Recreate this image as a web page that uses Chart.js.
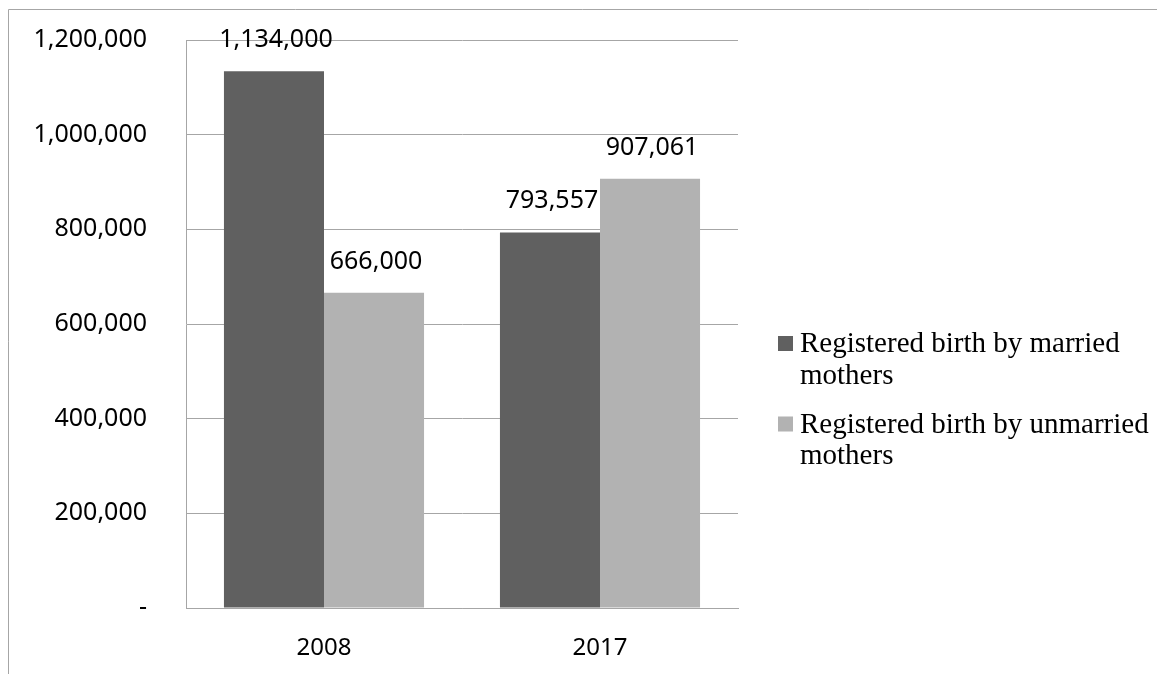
<!DOCTYPE html>
<html>
<head>
<meta charset="utf-8">
<script src="https://cdn.jsdelivr.net/npm/chart.js@4.4.1/dist/chart.umd.min.js"></script>
<style>
  html, body { margin: 0; padding: 0; background: #fff; }
  #wrap { position: relative; width: 1157px; height: 674px; }
</style>
</head>
<body>
<div id="wrap"><canvas id="birthChart"></canvas></div>
<script>
// ------------------------- DATA -------------------------
const years = ['2008', '2017'];
const marriedBirths = [1134000, 793557];
const unmarriedBirths = [666000, 907061];
const seriesNames = ['Registered birth by married mothers', 'Registered birth by unmarried mothers'];
const seriesColors = ['#606060', '#b2b2b2'];
const yTicksMax = 1200000;
const yTicksStep = 200000;

const GRID = '#a6a6a6';
const fmt = v => v.toLocaleString('en-US');

// ------------------------- PLUGINS -------------------------
// outer frame (top + left edge of the picture)
const framePlugin = {
  id: 'frame',
  beforeDraw(chart) {
    const ctx = chart.ctx;
    ctx.save();
    ctx.strokeStyle = GRID;
    ctx.lineWidth = 1;
    ctx.beginPath();
    ctx.moveTo(8.5, chart.height);
    ctx.lineTo(8.5, 9.5);
    ctx.lineTo(chart.width, 9.5);
    ctx.stroke();
    ctx.restore();
  }
};

// value labels above each bar
const valueLabels = {
  id: 'valueLabels',
  afterDatasetsDraw(chart) {
    const ctx = chart.ctx;
    ctx.save();
    ctx.font = '25px "Noto Sans"';
    ctx.fillStyle = '#000';
    ctx.textAlign = 'center';
    ctx.textBaseline = 'alphabetic';
    chart.data.datasets.forEach((ds, i) => {
      chart.getDatasetMeta(i).data.forEach((bar, j) => {
        ctx.fillText(fmt(ds.data[j]), bar.x + 2, bar.y - 24);
      });
    });
    ctx.restore();
  }
};

// right side legend with wrapped serif text
const sideLegend = {
  id: 'sideLegend',
  afterDraw(chart) {
    const ctx = chart.ctx;
    const boxX = 778, textX = 800, maxW = 355, lineH = 31.5, entryGap = 49;
    ctx.save();
    ctx.font = '29px "Liberation Serif"';
    ctx.textBaseline = 'alphabetic';
    ctx.textAlign = 'left';
    let y = 352;
    chart.data.datasets.forEach((ds, i) => {
      // word wrap
      const words = ds.label.split(' ');
      const lines = [];
      let cur = '';
      words.forEach(w => {
        const t = cur ? cur + ' ' + w : w;
        if (ctx.measureText(t).width > maxW && cur) { lines.push(cur); cur = w; }
        else cur = t;
      });
      if (cur) lines.push(cur);

      ctx.fillStyle = ds.backgroundColor;
      ctx.fillRect(boxX, y - 16, 15, 15);
      ctx.fillStyle = '#000';
      lines.forEach((ln, k) => ctx.fillText(ln, textX, y + k * lineH));
      y += (lines.length - 1) * lineH + entryGap;
    });
    ctx.restore();
  }
};

// ------------------------- CHART -------------------------
new Chart(document.getElementById('birthChart').getContext('2d'), {
  type: 'bar',
  data: {
    labels: years,
    datasets: [
      { label: seriesNames[0], data: marriedBirths, backgroundColor: seriesColors[0] },
      { label: seriesNames[1], data: unmarriedBirths, backgroundColor: seriesColors[1] }
    ]
  },
  options: {
    responsive: true,
    maintainAspectRatio: false,
    animation: false,
    devicePixelRatio: 1,
    categoryPercentage: 0.725,
    barPercentage: 1.0,
    layout: { padding: { left: 0, right: 419, top: 40, bottom: 0 } },
    plugins: {
      legend: { display: false },
      title: { display: false },
      tooltip: { enabled: false }
    },
    scales: {
      x: {
        grid: { display: false, drawTicks: false },
        border: { display: true, color: GRID, width: 1 },
        ticks: { color: '#000', font: { family: 'Noto Sans', size: 24 }, padding: 26 },
        afterFit: s => { s.height = 66; s.paddingLeft = 0; s.paddingRight = 0; }
      },
      y: {
        min: 0,
        max: yTicksMax,
        grid: { color: GRID, lineWidth: 1, drawTicks: false },
        border: { display: true, color: GRID, width: 1 },
        ticks: {
          stepSize: yTicksStep,
          color: '#000',
          font: { family: 'Noto Sans', size: 25 },
          padding: 39,
          callback: v => v === 0 ? '-' : fmt(v)
        },
        afterFit: s => { s.width = 186; s.paddingTop = 0; s.paddingBottom = 0; }
      }
    }
  },
  plugins: [framePlugin, valueLabels, sideLegend]
});
</script>
</body>
</html>
